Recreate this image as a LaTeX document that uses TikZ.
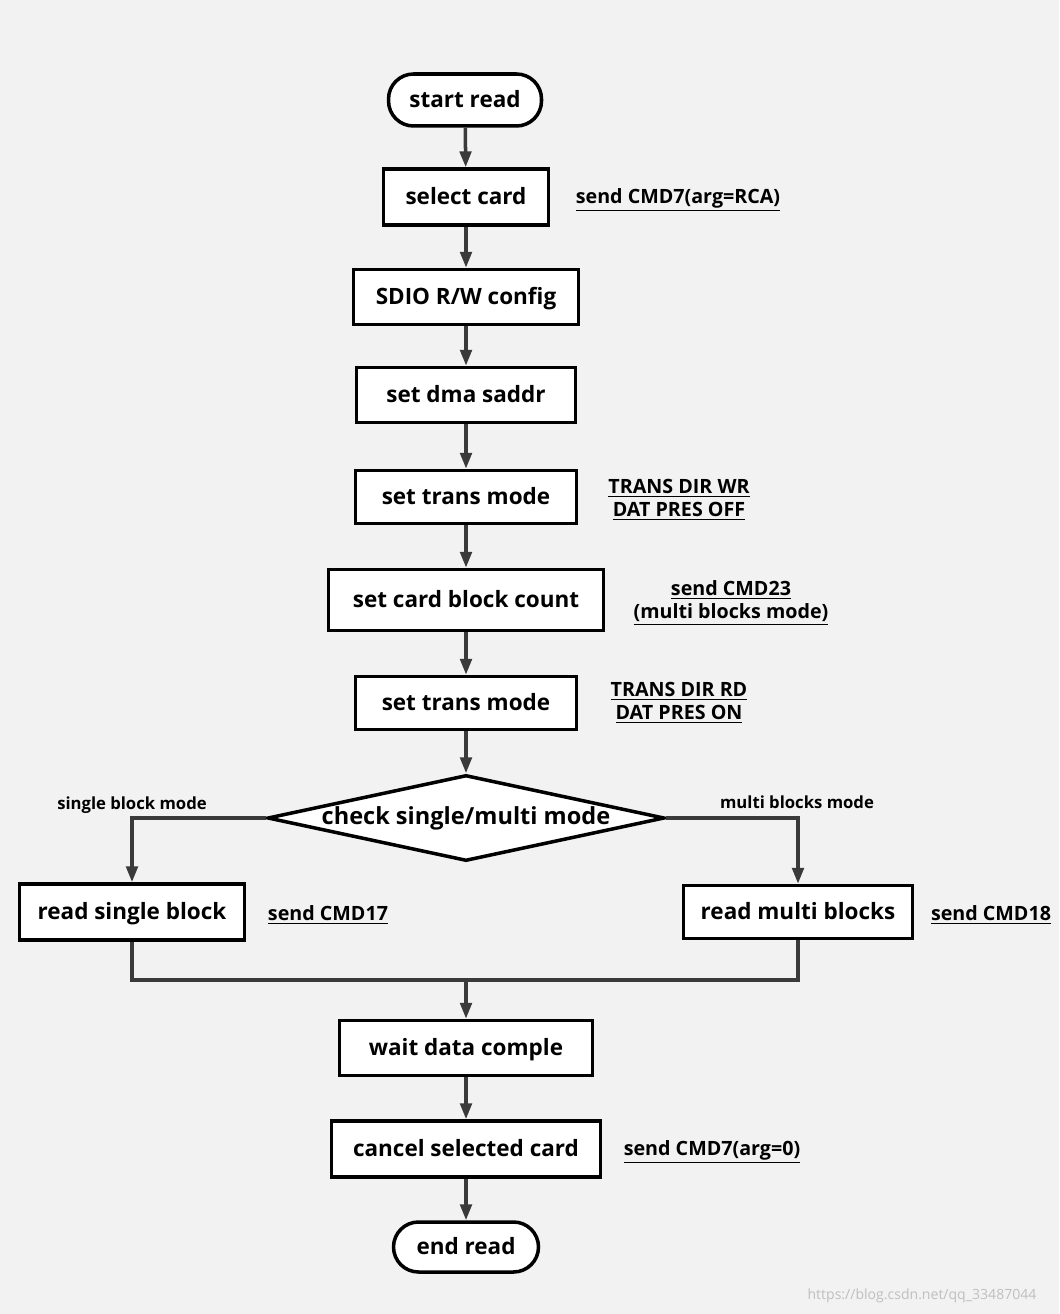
\documentclass[tikz,border=0pt]{standalone}
\usepackage{fontspec}
\setmainfont{Open Sans}
\usepackage{tikz}
\usetikzlibrary{positioning,calc}
\usetikzlibrary{arrows.meta,shapes.geometric}
\definecolor{PageGray}{RGB}{242,242,242}
\definecolor{LineGray}{RGB}{58,58,58}
\tikzset{
  box/.style={rectangle,draw=black,fill=white,line width=2pt,inner sep=2pt,
    text height=0.9em,text depth=0.04em,
    font=\fontsize{12.8}{15}\selectfont\bfseries},
  term/.style={box,rounded corners=0.5cm},
  decide/.style={diamond,draw=black,fill=white,line width=2pt,inner sep=0pt,
    aspect=4.6,minimum width=7.94cm,minimum height=1.72cm,
    text height=0.8em,text depth=0.08em,
    font=\fontsize{13.4}{15}\selectfont\bfseries},
  note/.style={align=center,font=\fontsize{11.2}{13}\selectfont\bfseries},
  tag/.style={font=\fontsize{9.5}{11}\selectfont\bfseries},
  wire/.style={draw=LineGray,line width=2pt},
  arr/.style={wire,-{Triangle[length=9pt,width=6.5pt]}},
}

\begin{document}
\begin{tikzpicture}[x=0.02cm,y=-0.02cm]
  \fill[PageGray] (0,0) rectangle (1059,1314);
  \useasboundingbox (0,0) rectangle (1059,1314);
  % main column
  \node[term,minimum width=3.06cm,minimum height=1.04cm] (start) at (465,100) {start read};
  \node[box,minimum width=3.3cm,minimum height=1.12cm] (sel) at (466,197) {select card};
  \node[box,minimum width=4.5cm,minimum height=1.1cm] (cfg) at (466,297) {SDIO R/W config};
  \node[box,minimum width=4.38cm,minimum height=1.1cm] (dma) at (466,395) {set dma saddr};
  \node[box,minimum width=4.42cm,minimum height=1.06cm] (wrmode) at (466,497) {set trans mode};
  \node[box,minimum width=5.5cm,minimum height=1.22cm] (cnt) at (466,600) {set card block count};
  \node[box,minimum width=4.42cm,minimum height=1.06cm] (rdmode) at (466,703) {set trans mode};
  \node[decide] (chk) at (466,818) {check single/multi mode};
  \node[box,minimum width=4.5cm,minimum height=1.12cm] (single) at (132,912) {read single block};
  \node[box,minimum width=4.58cm,minimum height=1.06cm] (multi) at (798,912) {read multi blocks};
  \coordinate (join) at (466,980);
  \node[box,minimum width=5.06cm,minimum height=1.1cm] (wait) at (466,1048) {wait data comple};
  \node[box,minimum width=5.38cm,minimum height=1.12cm] (cancel) at (466,1149) {cancel selected card};
  \node[term,minimum width=2.9cm,minimum height=1.0cm] (stop) at (466,1247) {end read};
  % side notes
  \node[note] (n1) at (678,200) {\underline{send CMD7(arg=RCA)}};
  \node[note] (n2) at (679,500) {\underline{TRANS DIR WR}\\[0pt]\underline{DAT PRES OFF}};
  \node[note] (n3) at (731,603) {\underline{send CMD23}\\[0pt]\underline{(multi blocks mode)}};
  \node[note] (n4) at (679,703) {\underline{TRANS DIR RD}\\[0pt]\underline{DAT PRES ON}};
  \node[note] (n5) at (328,915) {\underline{send CMD17}};
  \node[note] (n6) at (991,915) {\underline{send CMD18}};
  \node[note] (n7) at (712,1152) {\underline{send CMD7(arg=0)}};
  \node[tag] (t1) at (132,805) {single block mode};
  \node[tag] (t2) at (797,802) {multi blocks mode};
  \node[font=\fontsize{8}{10}\selectfont,text=black!25] (wm) at (922,1296) {https://blog.csdn.net/qq\_33487044};
  % connectors
  \draw[arr] (start) -- (sel);
  \draw[arr] (sel) -- (cfg);
  \draw[arr] (cfg) -- (dma);
  \draw[arr] (dma) -- (wrmode);
  \draw[arr] (wrmode) -- (cnt);
  \draw[arr] (cnt) -- (rdmode);
  \draw[arr] (rdmode) -- (chk);
  \draw[arr] (chk.west) -| (single);
  \draw[arr] (chk.east) -| (multi);
  \draw[wire] (single) |- (join) -| (multi);
  \draw[arr] (join) -- (wait);
  \draw[arr] (wait) -- (cancel);
  \draw[arr] (cancel) -- (stop);
\end{tikzpicture}
\end{document}
